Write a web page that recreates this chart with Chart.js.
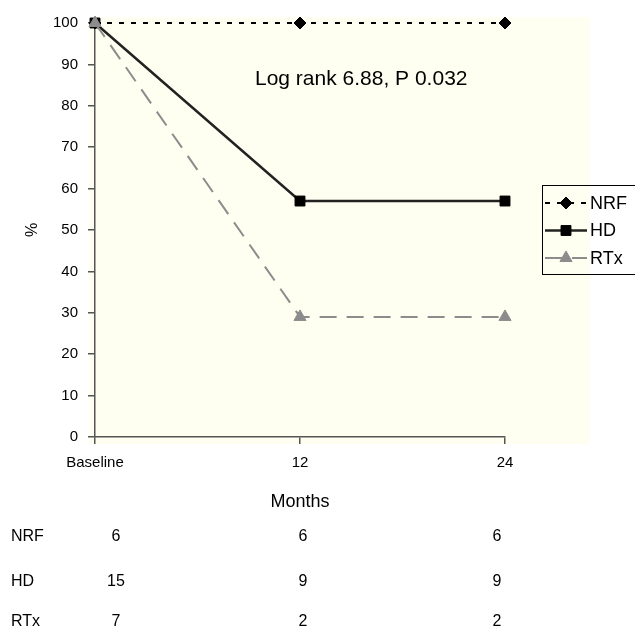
<!DOCTYPE html>
<html>
<head>
<meta charset="utf-8">
<script src="https://cdn.jsdelivr.net/npm/chart.js@4.4.1/dist/chart.umd.min.js"></script>
<style>
html,body{margin:0;padding:0;background:#ffffff;}
canvas{display:block;}
</style>
</head>
<body>
<canvas id="c" width="635" height="630" style="width:635px;height:630px"></canvas>
<script>
// ---- data ----
const months = ['Baseline', '12', '24'];
const nrfValues = [100, 100, 100];
const hdValues = [100, 57, 57];
const rtxValues = [100, 29, 29];
const yTicks = [0, 10, 20, 30, 40, 50, 60, 70, 80, 90, 100];
const riskGroups = ['NRF', 'HD', 'RTx'];
const riskNRF = [6, 6, 6];
const riskHD = [15, 9, 9];
const riskRTx = [7, 2, 2];
const annotationText = 'Log rank 6.88, P 0.032';
const yTitle = '%';
const xTitle = 'Months';

const FONT = "'Liberation Sans', Arial, Helvetica, sans-serif";

const datasets = [
  { label: 'NRF', data: nrfValues, borderColor: '#000000', backgroundColor: '#000000',
    borderWidth: 2, borderDash: [5, 7], pointStyle: 'rectRot', pointRadius: 6,
    pointBackgroundColor: '#000000', pointBorderColor: '#000000', pointBorderWidth: 1, order: 2 },
  { label: 'HD', data: hdValues, borderColor: '#222222', backgroundColor: '#000000',
    borderWidth: 2.5, borderDash: [], pointStyle: 'rect', pointRadius: 7,
    pointBackgroundColor: '#000000', pointBorderColor: '#000000', pointBorderWidth: 1, order: 1 },
  { label: 'RTx', data: rtxValues, borderColor: '#8c8c8c', backgroundColor: '#8c8c8c',
    borderWidth: 2, borderDash: [17, 10], pointStyle: 'triangle', pointRadius: 7,
    pointBackgroundColor: '#8c8c8c', pointBorderColor: '#8c8c8c', pointBorderWidth: 1, order: 0 }
];
datasets.forEach(d => { d.tension = 0; d.clip = false; d.fill = false; });

const bgPlugin = {
  id: 'bg',
  beforeDraw(chart) {
    const {ctx, chartArea: a} = chart;
    ctx.save();
    ctx.fillStyle = '#fefef1';
    ctx.fillRect(a.left - 6, a.top - 6, (a.right - a.left) + 91, (a.bottom - a.top) + 13);
    ctx.restore();
  }
};

const extrasPlugin = {
  id: 'extras',
  afterDraw(chart) {
    const {ctx, chartArea: a} = chart;
    const ys = chart.scales.y;
    ctx.save();
    // annotation
    ctx.font = '21px ' + FONT;
    ctx.fillStyle = '#000';
    ctx.textAlign = 'left';
    ctx.textBaseline = 'middle';
    ctx.fillText(annotationText, a.left + 160, ys.getPixelForValue(86.5));

    // legend
    ctx.strokeStyle = '#000';
    ctx.lineWidth = 1;
    ctx.strokeRect(542.5, 185.5, 110, 89);
    ctx.font = '18px ' + FONT;
    datasets.forEach((d, i) => {
      const y = 203 + i * 27.5;
      ctx.save();
      ctx.strokeStyle = d.borderColor;
      ctx.lineWidth = d.borderWidth;
      ctx.setLineDash(d.borderDash);
      ctx.beginPath();
      ctx.moveTo(545, y);
      ctx.lineTo(587, y);
      ctx.stroke();
      ctx.restore();
      ctx.save();
      ctx.fillStyle = d.pointBackgroundColor;
      ctx.strokeStyle = d.pointBorderColor;
      ctx.lineWidth = 1;
      Chart.helpers.drawPoint(ctx, {pointStyle: d.pointStyle, radius: d.pointRadius, rotation: 0, borderWidth: 1}, 566, y);
      ctx.restore();
      ctx.fillStyle = '#000';
      ctx.textAlign = 'left';
      ctx.textBaseline = 'middle';
      ctx.fillText(d.label, 590, y + 1);
    });

    // number at risk table
    ctx.font = '16px ' + FONT;
    ctx.fillStyle = '#000';
    const rows = [riskNRF, riskHD, riskRTx];
    const rowY = [537, 582, 622];
    const colX = [116, 303, 497];
    rows.forEach((vals, r) => {
      ctx.textAlign = 'left';
      ctx.fillText(riskGroups[r], 11, rowY[r]);
      ctx.textAlign = 'center';
      vals.forEach((v, c) => ctx.fillText(String(v), colX[c], rowY[r]));
    });
    ctx.restore();
  }
};

new Chart(document.getElementById('c'), {
  type: 'line',
  data: { labels: months, datasets },
  options: {
    responsive: false,
    animation: false,
    events: [],
    layout: { padding: { left: 0, right: 130, top: 23, bottom: 115 } },
    plugins: { legend: { display: false }, tooltip: { enabled: false } },
    scales: {
      x: {
        type: 'category',
        offset: false,
        grid: { display: true, drawOnChartArea: false, drawTicks: true, tickLength: 7, color: '#555', lineWidth: 1.5 },
        border: { display: true, color: '#555', width: 1.5 },
        ticks: { color: '#000', font: { family: FONT, size: 15 }, padding: 10, maxRotation: 0, autoSkip: false },
        title: { display: true, text: xTitle, color: '#000', font: { family: FONT, size: 18 }, padding: { top: 0, bottom: 2 } },
        afterFit(s) { s.height = 78; }
      },
      y: {
        min: 0, max: 100,
        afterBuildTicks(s) { s.ticks = yTicks.map(v => ({ value: v })); },
        grid: { display: true, drawOnChartArea: false, drawTicks: true, tickLength: 7, color: '#555', lineWidth: 1.5 },
        border: { display: true, color: '#555', width: 1.5 },
        ticks: { color: '#000', font: { family: FONT, size: 15 }, padding: 10 },
        title: { display: true, text: yTitle, color: '#000', font: { family: FONT, size: 16 }, padding: { top: 23, bottom: 0 } },
        afterFit(s) { s.width = 95; }
      }
    }
  },
  plugins: [bgPlugin, extrasPlugin]
});
</script>
</body>
</html>
